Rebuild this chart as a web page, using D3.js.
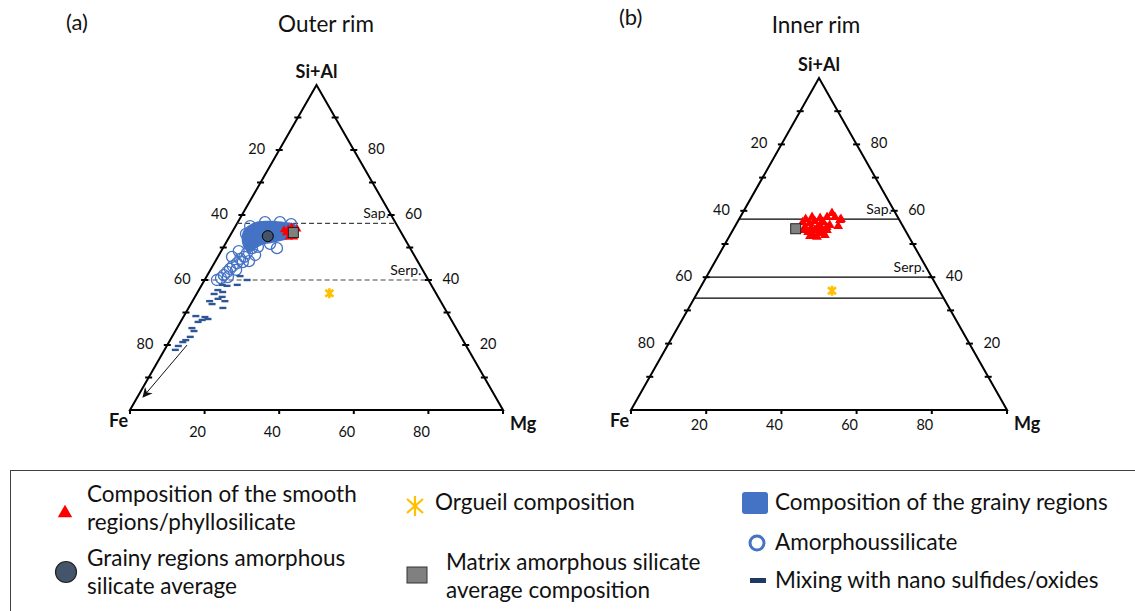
<!DOCTYPE html>
<html>
<head>
<meta charset="utf-8">
<script src="https://cdn.jsdelivr.net/npm/d3@7"></script>
<style>
  body { margin: 0; background: #fff; }
  text { font-family: Lato, "Open Sans", sans-serif; fill: #111; }
</style>
</head>
<body>
<svg width="1135" height="611"></svg>
<script>
// every composition is [Fe, Mg, Si+Al] in %
var orgueil = [28.6, 35.5, 35.9];
var matrixAvg = [28.9, 16.5, 54.6];
var grainyAvg = [36.3, 10.2, 53.5];

var smoothOuter = [
  [29.7, 14.6, 55.7], [30.9, 14.6, 54.5], [29.8, 15.7, 54.5], [30.8, 16.0, 53.2],
  [29.4, 17.4, 53.2], [27.3, 17.0, 55.7], [31.1, 13.6, 55.4], [28.5, 15.2, 56.3]
];

var smoothInner = [
  [22.8, 19.1, 58.1], [20.8, 21.4, 57.8], [18.8, 23.1, 58.1], [16.9, 23.8, 59.3],
  [16.7, 25.2, 58.1], [15.8, 27.0, 57.2], [17.2, 27.4, 55.4], [20.6, 22.8, 56.6],
  [24.3, 19.4, 56.3], [26.2, 18.7, 55.1], [24.0, 21.8, 54.2], [22.4, 24.0, 53.6],
  [20.8, 25.0, 54.2], [25.3, 22.0, 52.7], [26.1, 20.3, 53.6], [22.8, 22.1, 55.1],
  [19.3, 25.0, 55.7], [26.0, 17.4, 56.6], [22.1, 25.2, 52.7], [24.5, 23.4, 52.1],
  [15.4, 27.1, 57.5], [20.4, 24.5, 55.1], [24.8, 17.7, 57.5], [22.7, 20.4, 56.9],
  [21.9, 22.4, 55.7], [24.7, 20.5, 54.8], [26.9, 18.9, 54.2], [23.4, 23.3, 53.3],
  [26.2, 21.4, 52.4]
];

// outline of the grainy-region field (outer rim)
var grainyField = [
  [40.1, 3.3, 56.6], [37.6, 4.6, 57.8], [33.4, 8.4, 58.2], [29.5, 12.7, 57.8],
  [27.2, 15.6, 57.2], [27.4, 17.5, 55.1], [29.4, 17.7, 52.9], [32.3, 15.4, 52.3],
  [36.2, 12.4, 51.4], [39.2, 10.0, 50.8], [41.8, 8.7, 49.5], [43.8, 7.6, 48.6],
  [44.5, 5.7, 49.8], [43.9, 3.8, 52.3], [42.1, 2.8, 55.1]
];

var amorphous = [
  [42.4, 7.8, 49.8], [44.5, 7.2, 48.3], [45.8, 7.1, 47.1], [47.2, 6.3, 46.5],
  [48.7, 6.1, 45.2], [50.3, 5.4, 44.3], [51.5, 5.1, 43.4], [52.7, 4.8, 42.5],
  [54.1, 4.4, 41.5], [55.3, 4.1, 40.6], [56.7, 3.3, 40.0], [49.1, 3.8, 47.1],
  [47.0, 7.5, 45.5], [45.2, 9.0, 45.8], [50.0, 6.9, 43.1], [53.3, 5.8, 40.9],
  [35.7, 14.5, 49.8], [34.9, 7.3, 57.8], [39.5, 3.9, 56.6], [41.8, 4.0, 54.2],
  [30.9, 11.3, 57.8], [28.2, 14.6, 57.2], [36.5, 12.0, 51.1], [40.7, 9.2, 50.2],
  [46.4, 4.7, 48.9], [42.6, 9.7, 47.7]
];

var sulfideMix = [
  [48.6, 11.4, 40.0], [49.9, 8.9, 41.2], [56.0, 5.5, 38.5], [54.9, 6.9, 38.2],
  [52.0, 9.5, 38.5], [58.0, 5.1, 36.9], [57.0, 6.7, 36.3], [57.9, 7.3, 34.8],
  [59.3, 6.5, 34.2], [61.9, 4.6, 33.5], [61.7, 5.7, 32.6], [57.8, 8.7, 33.5],
  [59.4, 9.2, 31.4], [65.6, 5.8, 28.6], [66.8, 5.5, 27.7], [65.1, 6.9, 28.0],
  [68.2, 4.7, 27.1], [70.8, 4.0, 25.2], [70.7, 5.0, 24.3], [72.6, 4.9, 22.5],
  [75.4, 3.7, 20.9], [77.2, 3.1, 19.7], [78.6, 2.9, 18.5], [74.3, 4.2, 21.5],
  [59.6, 4.7, 35.7], [67.9, 3.2, 28.9]
];

var mixTrend = [[74.7, 5.3, 20.0], [94.5, 1.5, 4.0]];

var refOuter = [{ name: "Sap.", si: 57.4 }, { name: "Serp.", si: 40 }];
var refInner = [{ name: "Sap.", si: 57.5 }, { name: "Serp.", si: 40 }, { name: "", si: 33.7 }];

var edgeTicks = d3.range(10, 100, 10);
var baseTicks = [20, 40, 60, 80];
var tickLabels = [20, 40, 60, 80];

var svg = d3.select("svg");

var blue = "#4472C4", navy = "#2F5597", red = "#FF0000", gold = "#FFC000";

// asterisk like the Orgueil marker
var star = {
  draw: function(ctx, size) {
    var r = Math.sqrt(size) / 2;
    ctx.moveTo(0, -r); ctx.lineTo(0, r);
    ctx.moveTo(-r * 0.8, -r * 0.7); ctx.lineTo(r * 0.8, r * 0.7);
    ctx.moveTo(-r * 0.8, r * 0.7); ctx.lineTo(r * 0.8, -r * 0.7);
  }
};

svg.append("defs").append("marker")
    .attr("id", "arrow")
    .attr("viewBox", "0 0 10 10")
    .attr("refX", 9).attr("refY", 5)
    .attr("markerWidth", 10).attr("markerHeight", 10)
    .attr("markerUnits", "userSpaceOnUse")
    .attr("orient", "auto")
  .append("path")
    .attr("d", "M0,0 L10,5 L0,10 L3,5 Z")
    .attr("fill", "#111");

function ternary(opt) {
  var x = d3.scaleLinear().domain([0, 100]).range([opt.x0, opt.x1]);
  var y = d3.scaleLinear().domain([0, 100]).range([opt.base, opt.apex]);
  var px = function(p) { return x(p[1] + p[2] / 2); };
  var py = function(p) { return y(p[2]); };
  var g = svg.append("g");

  // frame
  var corners = [[100, 0, 0], [0, 100, 0], [0, 0, 100]];
  g.append("path")
    .attr("d", d3.line().x(px).y(py)(corners) + "Z")
    .attr("fill", "none").attr("stroke", "#000").attr("stroke-width", 2)
    .attr("stroke-linejoin", "miter");

  // reference lines (constant Si+Al)
  opt.refs.forEach(function(r) {
    var a = [100 - r.si, 0, r.si], b = [0, 100 - r.si, r.si];
    g.append("line")
      .attr("x1", px(a)).attr("y1", py(a)).attr("x2", px(b)).attr("y2", py(b))
      .attr("stroke", opt.dashed ? "#444" : "#000")
      .attr("stroke-width", 1.2)
      .style("stroke-dasharray", opt.dashed ? "5,3" : null);
    if (r.name) {
      g.append("text")
        .attr("x", px(b) - 7).attr("y", py(b) - 5)
        .attr("text-anchor", "end")
        .style("font-size", "14px")
        .text(r.name);
    }
  });

  // ticks on the two sloped edges
  edgeTicks.forEach(function(t) {
    var l = [t, 0, 100 - t], r = [0, 100 - t, t];
    [l, r].forEach(function(p) {
      g.append("line")
        .attr("x1", px(p) - 3.5).attr("x2", px(p) + 3.5)
        .attr("y1", py(p)).attr("y2", py(p))
        .attr("stroke", "#000").attr("stroke-width", 2);
    });
  });
  baseTicks.concat([0, 100]).forEach(function(t) {
    var p = [100 - t, t, 0];
    g.append("line")
      .attr("x1", px(p)).attr("x2", px(p))
      .attr("y1", py(p)).attr("y2", py(p) + 4)
      .attr("stroke", "#000").attr("stroke-width", 2);
  });

  // tick labels
  g.selectAll(".lfe").data(tickLabels).enter().append("text")
    .attr("x", function(d) { return px([d, 0, 100 - d]) - 14; })
    .attr("y", function(d) { return py([d, 0, 100 - d]) + 4; })
    .attr("text-anchor", "end").style("font-size", "14.5px")
    .text(function(d) { return d; });
  g.selectAll(".lsi").data(tickLabels).enter().append("text")
    .attr("x", function(d) { return px([0, 100 - d, d]) + 14; })
    .attr("y", function(d) { return py([0, 100 - d, d]) + 4; })
    .attr("text-anchor", "start").style("font-size", "14.5px")
    .text(function(d) { return d; });
  g.selectAll(".lmg").data(tickLabels).enter().append("text")
    .attr("x", function(d) { return px([100 - d, d, 0]) - 7; })
    .attr("y", function(d) { return py([100 - d, d, 0]) + opt.baseLab; })
    .attr("text-anchor", "middle").style("font-size", "14.5px")
    .text(function(d) { return d; });

  // corner labels
  var cl = g.append("g").style("font-weight", "bold").style("font-size", "18px");
  cl.append("text").attr("x", px(corners[0]) - 2).attr("y", py(corners[0]) + 17)
    .attr("text-anchor", "end").text("Fe");
  cl.append("text").attr("x", px(corners[1]) + 7).attr("y", py(corners[1]) + 20)
    .attr("text-anchor", "start").text("Mg");
  cl.append("text").attr("x", px(corners[2])).attr("y", py(corners[2]) - 7)
    .attr("text-anchor", "middle").text("Si+Al");

  // titles
  g.append("text").attr("x", opt.tagX).attr("y", opt.tagY)
    .style("font-size", "22px").text(opt.tag);
  g.append("text").attr("x", opt.titleX).attr("y", opt.titleY)
    .attr("text-anchor", "middle").style("font-size", "22.5px").text(opt.title);

  // data
  if (opt.field) {
    g.append("path")
      .attr("d", d3.line().x(px).y(py).curve(d3.curveCatmullRomClosed)(opt.field))
      .attr("fill", blue);
  }
  if (opt.circles) {
    g.selectAll(".am").data(opt.circles).enter().append("circle")
      .attr("cx", px).attr("cy", py).attr("r", 5.5)
      .attr("fill", "none").attr("stroke", blue).attr("stroke-width", 1.3);
  }
  if (opt.dashes) {
    g.selectAll(".mx").data(opt.dashes).enter().append("rect")
      .attr("x", function(d) { return px(d) - 3.5; })
      .attr("y", function(d) { return py(d) - 1.2; })
      .attr("width", 7).attr("height", 2.4)
      .attr("fill", navy);
  }
  if (opt.trend) {
    g.append("line")
      .attr("x1", px(opt.trend[0])).attr("y1", py(opt.trend[0]))
      .attr("x2", px(opt.trend[1])).attr("y2", py(opt.trend[1]))
      .attr("stroke", "#111").attr("stroke-width", 1)
      .attr("marker-end", "url(#arrow)");
  }
  g.selectAll(".sm").data(opt.smooth).enter().append("path")
    .attr("transform", function(d) { return "translate(" + px(d) + "," + py(d) + ")"; })
    .attr("d", d3.symbol().type(d3.symbolTriangle).size(opt.triSize))
    .attr("fill", red);
  if (opt.grainyAvg) {
    g.append("circle")
      .attr("cx", px(opt.grainyAvg)).attr("cy", py(opt.grainyAvg)).attr("r", 5.5)
      .attr("fill", "#44546A").attr("stroke", "#000").attr("stroke-width", 1);
  }
  g.append("rect")
    .attr("x", px(matrixAvg) - 5).attr("y", py(matrixAvg) - 5)
    .attr("width", 10).attr("height", 10)
    .attr("fill", "#808080").attr("stroke", "#222").attr("stroke-width", 1);
  g.append("path")
    .attr("transform", "translate(" + px(orgueil) + "," + py(orgueil) + ")")
    .attr("d", d3.symbol().type(star).size(100))
    .attr("fill", "none").attr("stroke", gold).attr("stroke-width", 2.6);
}

ternary({
  x0: 130, x1: 503, base: 410, apex: 85, baseLab: 27,
  tag: "(a)", tagX: 66, tagY: 30, title: "Outer rim", titleX: 326, titleY: 32,
  refs: refOuter, dashed: true,
  field: grainyField, circles: amorphous, dashes: sulfideMix, trend: mixTrend,
  smooth: smoothOuter, triSize: 30, grainyAvg: grainyAvg
});

ternary({
  x0: 631, x1: 1007, base: 410, apex: 78, baseLab: 20,
  tag: "(b)", tagX: 619, tagY: 25, title: "Inner rim", titleX: 816, titleY: 33,
  refs: refInner, dashed: false,
  smooth: smoothInner, triSize: 42
});

// legend
var lg = svg.append("g");
lg.append("rect")
  .attr("x", 10.5).attr("y", 470.5).attr("width", 1140).attr("height", 200)
  .attr("fill", "none").attr("stroke", "#404040").attr("stroke-width", 1);

var legendText = lg.append("g").style("font-size", "22.5px");
function lines(x, y, arr) {
  arr.forEach(function(s, i) {
    legendText.append("text").attr("x", x).attr("y", y + i * 28).text(s);
  });
}
lg.append("path").attr("transform", "translate(65,513)")
  .attr("d", d3.symbol().type(d3.symbolTriangle).size(90)).attr("fill", red);
lines(87, 502, ["Composition of the smooth", "regions/phyllosilicate"]);

lg.append("circle").attr("cx", 66).attr("cy", 572).attr("r", 10.5)
  .attr("fill", "#44546A").attr("stroke", "#222").attr("stroke-width", 1.2);
lines(87, 566, ["Grainy regions amorphous", "silicate average"]);

lg.append("path").attr("transform", "translate(415,506)")
  .attr("d", d3.symbol().type(star).size(400))
  .attr("fill", "none").attr("stroke", gold).attr("stroke-width", 2.2);
lines(435, 510, ["Orgueil composition"]);

lg.append("rect").attr("x", 407).attr("y", 567).attr("width", 20).attr("height", 16)
  .attr("fill", "#808080").attr("stroke", "#333").attr("stroke-width", 1);
lines(446, 570, ["Matrix amorphous silicate", "average composition"]);

lg.append("rect").attr("x", 742).attr("y", 492).attr("width", 26).attr("height", 22)
  .attr("rx", 3).attr("fill", blue);
lines(775, 510, ["Composition of the grainy regions"]);

lg.append("circle").attr("cx", 757).attr("cy", 543).attr("r", 7)
  .attr("fill", "none").attr("stroke", blue).attr("stroke-width", 3);
lines(775, 550, ["Amorphoussilicate"]);

lg.append("rect").attr("x", 750).attr("y", 578).attr("width", 16).attr("height", 5)
  .attr("fill", "#1F3864");
lines(775, 588, ["Mixing with nano sulfides/oxides"]);
</script>
</body>
</html>
